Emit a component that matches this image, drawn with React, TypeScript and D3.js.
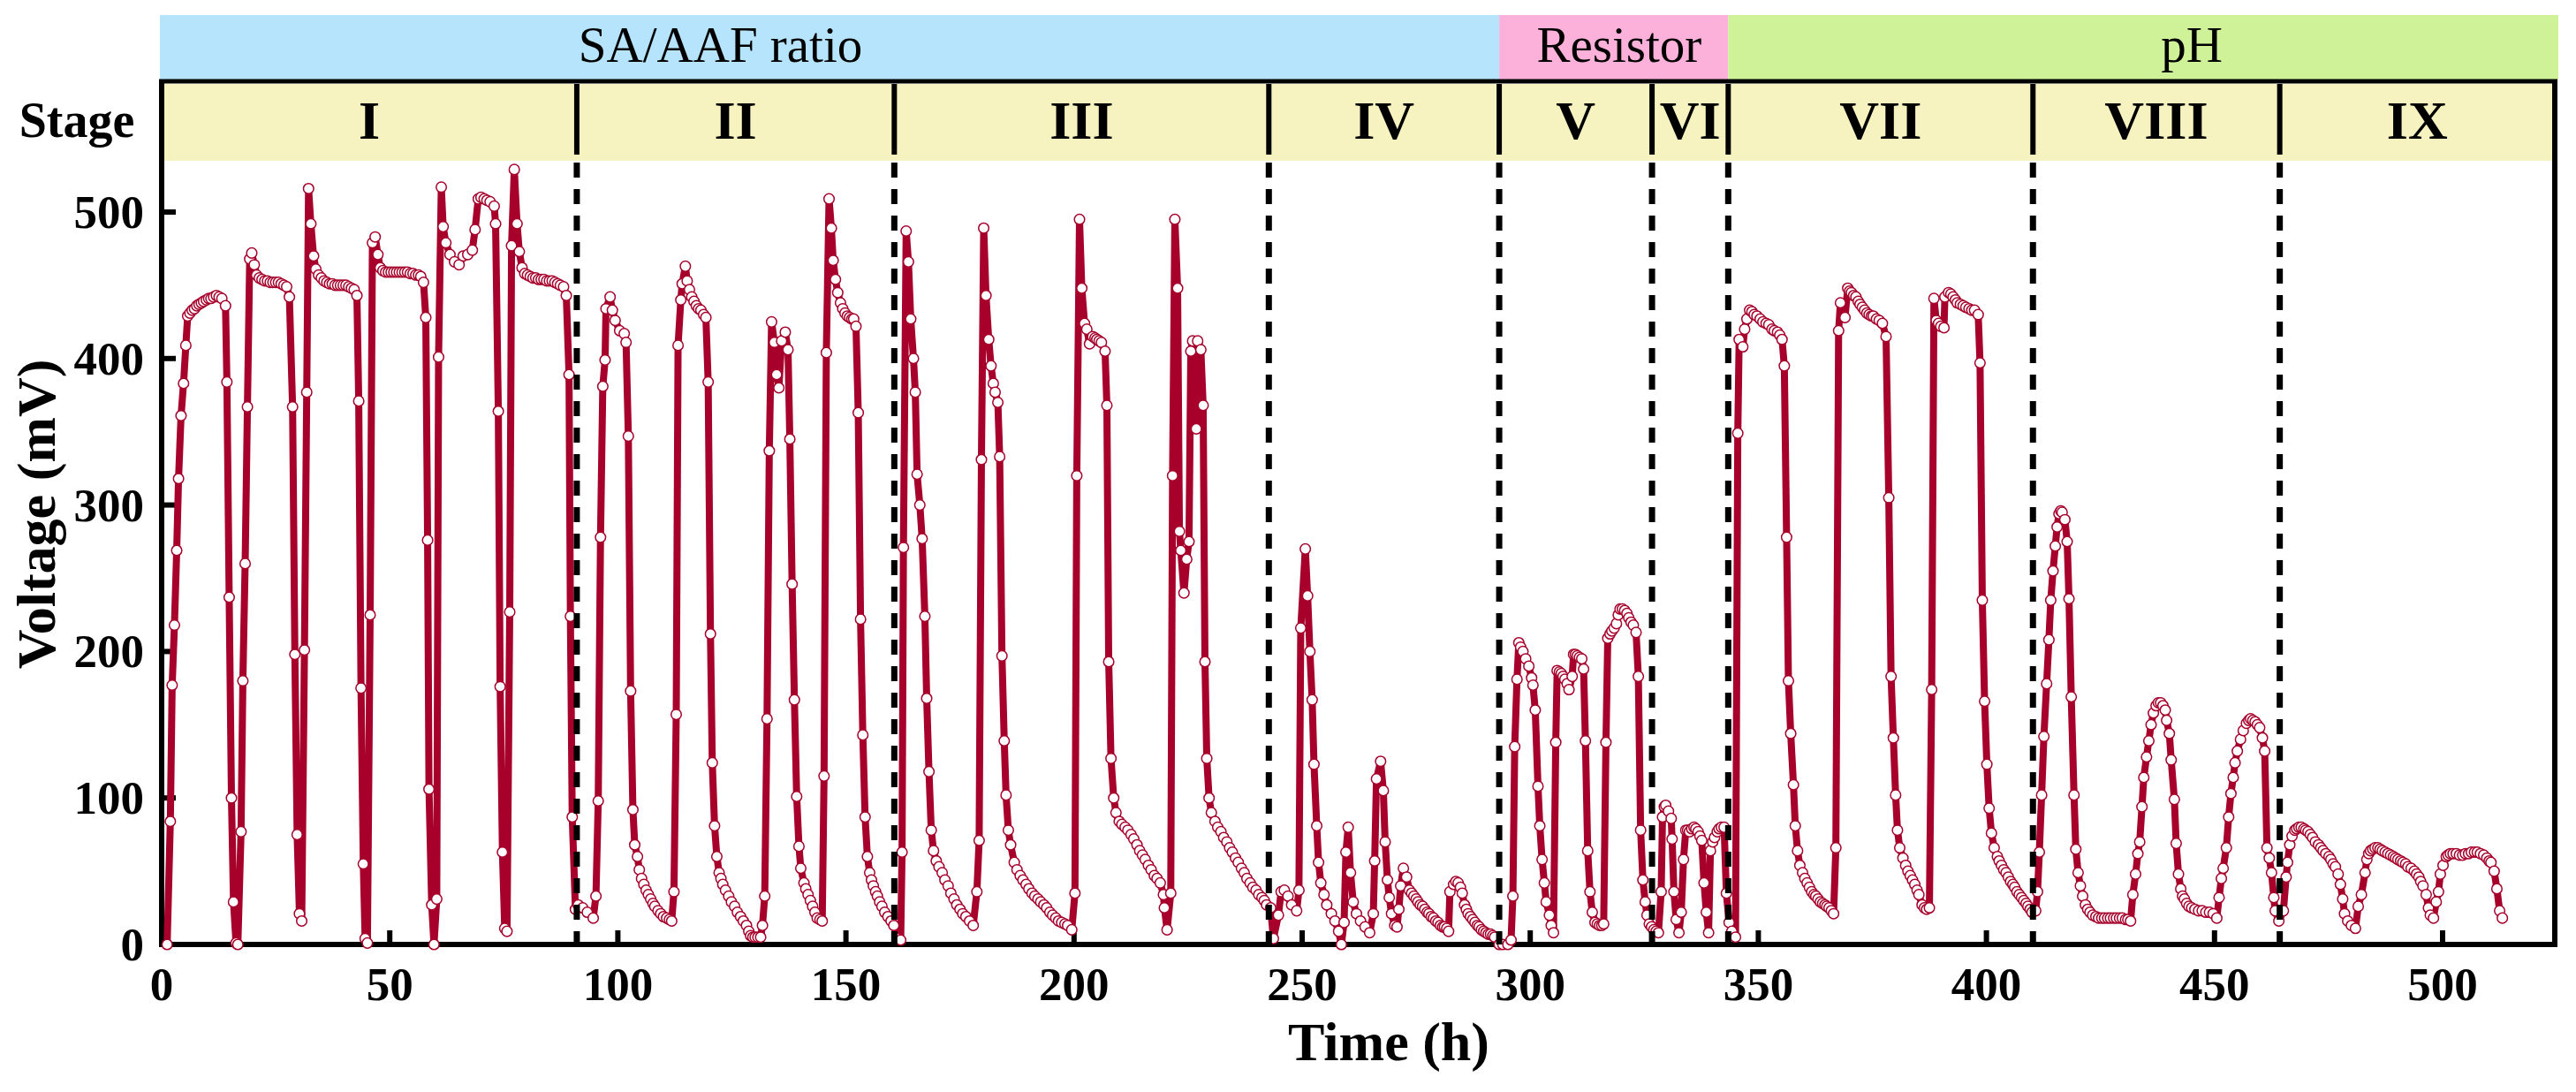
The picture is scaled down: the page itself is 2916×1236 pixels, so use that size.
import * as d3 from "d3";

// voltage readings per stage, [time (h), voltage (mV)]
const stageI: [number, number][] = [
  [1.2, 0], [1.9, 84], [2.3, 177], [2.8, 218], [3.3, 269], [3.7, 318], [4.25, 361], [4.8, 383], [5.3, 409], [5.7, 429],
  [6.2, 431], [6.7, 433], [7.2, 434], [7.7, 436], [8.2, 437], [8.7, 438], [9.2, 439], [9.8, 440], [10.3, 441], [10.8, 441],
  [11.4, 442], [12, 443], [12.6, 442], [13.2, 441], [14, 436], [14.3, 384], [14.8, 237], [15.3, 100], [15.75, 29], [16.3, 1],
  [16.7, 0], [17.4, 77], [17.8, 180], [18.3, 260], [18.8, 367], [19.3, 468], [19.75, 472], [20.3, 464], [20.8, 457],
  [21.4, 455], [22, 454], [22.6, 453], [23.2, 453], [23.8, 452], [24.4, 452], [25, 452], [25.6, 452], [26.2, 451], [26.8, 450],
  [27.4, 449], [28, 442], [28.7, 367], [29.2, 198], [29.7, 75], [30.2, 21], [30.7, 16], [31.3, 201], [31.8, 377], [32.2, 516],
  [32.7, 492], [33.3, 470], [33.8, 461], [34.4, 457], [35, 455], [35.6, 453], [36.2, 452], [36.8, 451], [37.4, 451], [38, 450],
  [38.6, 450], [39.2, 450], [39.8, 450], [40.4, 450], [41, 449], [41.6, 448], [42.2, 447], [42.8, 443], [43.2, 371], [43.7, 175],
  [44.2, 55], [44.6, 4], [45.1, 1], [45.7, 225], [46.2, 479], [46.8, 483], [47.4, 471], [47.9, 462], [48.5, 460], [49.1, 459],
  [49.7, 459], [50.3, 459], [50.9, 459], [51.5, 459], [52.1, 459], [52.7, 459], [53.3, 459], [53.9, 459], [54.5, 458], [55.1, 458],
  [55.7, 457], [56.3, 457], [56.8, 456], [57.4, 452], [57.9, 428], [58.3, 276], [58.6, 106], [59.2, 27], [59.7, 0], [60.3, 31],
  [60.7, 401], [61.3, 517], [61.7, 490], [62.3, 479], [63.2, 471], [64.2, 466], [65.2, 464], [66.1, 470], [67.1, 471], [68.1, 474],
  [68.7, 488], [69.4, 509], [70, 510], [70.7, 509], [71.3, 508], [72, 507], [72.9, 504], [73.2, 492], [73.8, 364], [74.2, 176],
  [74.7, 63], [75.2, 11], [75.7, 9], [76.3, 227], [76.7, 477], [77.3, 529], [77.9, 492], [78.4, 473], [79, 462], [79.6, 458],
  [80.2, 457], [80.8, 456], [81.4, 455], [82, 455], [82.6, 454], [83.2, 454], [83.8, 454], [84.4, 453], [85, 453], [85.6, 453],
  [86.2, 452], [86.8, 451], [87.4, 450], [88.1, 449], [88.7, 443], [89.3, 389], [89.6, 224], [90, 87], [90.7, 24],
];

const stageII: [number, number][] = [
  [91.3, 27], [92.3, 25], [93.3, 22], [94.6, 18], [95.2, 33], [95.7, 98], [96.2, 278], [96.7, 381], [97.2, 399], [97.4, 434],
  [98.3, 442], [98.8, 433], [99.4, 426], [100.4, 419], [101.4, 417], [101.8, 411], [102.3, 347], [102.8, 173], [103.3, 92],
  [103.7, 68], [104.3, 60], [104.7, 51], [105.2, 45], [105.7, 41], [106.2, 37], [106.7, 34], [107.2, 31], [107.7, 28], [108.1, 26],
  [108.8, 23], [109.4, 21], [110, 19], [110.7, 18], [111.3, 17], [111.8, 16], [112.3, 36], [112.8, 157], [113.2, 409], [113.8, 440],
  [114.1, 451], [114.8, 463], [115.2, 453], [115.7, 447], [116.2, 442], [116.7, 439], [117.2, 436], [117.7, 434], [118.2, 433],
  [118.8, 430], [119.3, 428], [119.8, 384], [120.3, 212], [120.7, 124], [121.2, 81], [121.7, 60], [122.2, 49], [122.6, 45],
  [123, 41], [123.6, 37], [124.3, 33], [124.9, 29], [125.6, 26], [126.2, 22], [126.9, 19], [127.5, 16], [128.2, 13], [128.7, 9],
  [129.1, 6], [129.6, 5], [130.1, 5], [130.7, 5], [131.3, 5], [131.7, 13], [132.2, 33], [132.7, 154], [133.2, 337], [133.7, 425],
  [134.3, 411], [134.8, 389], [135.3, 380], [135.9, 412], [136.7, 418], [137.3, 406], [137.7, 345], [138.2, 246], [138.7, 167],
  [139.2, 101], [139.7, 67], [140.1, 52], [140.8, 42], [141.2, 38], [141.7, 34], [142.2, 30], [142.7, 26], [143.2, 22], [143.7, 18],
  [144.3, 17], [144.8, 16], [145.2, 115], [145.7, 404], [146.3, 509], [146.8, 489], [147.2, 467], [147.7, 454], [148.2, 445],
  [148.8, 438], [149.3, 434], [149.8, 431], [150.3, 429], [150.8, 428], [151.3, 427], [151.7, 427], [152.2, 422], [152.7, 363],
  [153.2, 222], [153.7, 143], [154.2, 87], [154.7, 60], [155.2, 49], [155.6, 44], [156, 40], [156.5, 36], [156.9, 33], [157.4, 29],
  [157.9, 26], [158.5, 22], [159.2, 19], [159.9, 16], [160.5, 13],
];

const stageIII: [number, number][] = [
  [161.3, 4], [162, 3], [162.3, 63], [162.6, 271], [163.2, 487], [163.7, 466], [164.2, 427], [164.8, 400], [165.2, 377],
  [165.6, 321], [166.2, 300], [166.7, 277], [167.3, 224], [167.7, 168], [168.2, 118], [168.7, 78], [169.2, 64], [169.8, 57],
  [170.4, 53], [171.1, 49], [171.7, 44], [172.4, 40], [173, 35], [173.7, 31], [174.3, 27], [175, 24], [175.6, 21], [176.3, 19],
  [177.1, 16], [177.9, 13], [178.7, 36], [179.2, 71], [179.7, 331], [180.2, 489], [180.7, 443], [181.3, 413], [181.8, 395],
  [182.3, 383], [182.7, 377], [183.3, 370], [183.7, 333], [184.2, 197], [184.7, 139], [185.1, 102], [185.6, 78], [186.1, 68],
  [186.9, 56], [187.5, 51], [188.2, 47], [188.8, 44], [189.5, 41], [190.1, 38], [190.8, 35], [191.4, 33], [192.1, 31], [192.7, 29],
  [193.4, 27], [194, 25], [194.7, 22], [195.3, 20], [196, 18], [196.6, 16], [197.3, 15], [198, 14], [198.6, 13], [199.5, 10],
  [200.2, 35], [200.6, 320], [201.2, 495], [201.7, 448], [202.3, 424], [202.8, 420], [203.4, 410], [204.1, 415], [204.6, 414],
  [205, 413], [205.5, 412], [206, 411], [206.8, 405], [207.2, 368], [207.6, 193], [208.1, 127], [208.7, 100], [209.2, 90],
  [209.9, 84], [210.5, 82], [211.2, 80], [211.8, 78], [212.5, 75], [213.1, 72], [213.8, 68], [214.4, 64], [215, 61], [215.6, 58],
  [216.3, 54], [216.9, 51], [217.6, 47], [218.2, 45], [218.9, 42], [219.6, 34], [219.8, 25], [220.4, 10], [221.2, 35], [221.6, 320],
  [222.1, 495], [222.7, 448], [223.1, 282], [223.4, 269], [224.1, 240], [224.7, 263], [225.2, 275], [225.6, 405], [226, 412],
  [226.8, 352], [227.1, 412], [227.8, 406], [228.3, 368], [228.7, 193], [229.1, 127], [229.6, 100], [230.1, 90], [230.9, 84],
  [231.5, 80], [232.2, 77], [232.8, 73], [233.5, 70], [234.1, 66], [234.7, 63], [235.4, 59], [236, 56], [236.7, 52], [237.3, 49],
  [237.9, 45], [238.6, 42], [239.2, 39], [239.9, 37], [240.5, 34], [241.2, 32], [241.7, 30], [242.2, 27],
];

const stageIV: [number, number][] = [
  [243.1, 25], [243.7, 4], [244.8, 20], [245.4, 36], [246.1, 37], [246.9, 33], [247.7, 27], [248.8, 23], [249.3, 37], [249.7, 216],
  [250.7, 270], [251.2, 238], [251.7, 200], [252.2, 167], [252.6, 123], [253.2, 81], [253.6, 56], [254.1, 42], [254.8, 34],
  [255.4, 27], [256.4, 21], [257.2, 16], [258, 9], [258.6, 0], [259.2, 15], [259.6, 63], [260.1, 80], [260.6, 49], [261.2, 29],
  [261.9, 21], [262.8, 16], [263.8, 12], [264.8, 8], [265.6, 21], [265.9, 57], [266.3, 113], [267.2, 125], [267.8, 105],
  [268.2, 70], [268.7, 44], [269.1, 32], [269.6, 21], [270.3, 13], [270.8, 12], [271.2, 24], [271.6, 40], [272.2, 52], [272.9, 46],
  [273.5, 37], [274, 35], [274.5, 33], [275, 31], [275.4, 29], [275.9, 27], [276.4, 26], [276.9, 24], [277.4, 22], [277.8, 21],
  [278.3, 19], [278.8, 18], [279.3, 16], [279.8, 15], [280.3, 13], [280.8, 12], [281.2, 12], [281.7, 11], [282.1, 9], [282.4, 36],
  [283.2, 41], [283.7, 43], [284.2, 42], [284.7, 39], [285.1, 35], [285.6, 27], [286, 24], [286.4, 21], [286.9, 19], [287.4, 17],
  [287.9, 15], [288.4, 13], [288.8, 12], [289.3, 10], [289.8, 9], [290.3, 8], [290.8, 7], [291.3, 7], [291.8, 6], [292.2, 5],
  [293.2, 0],
];

const stageV: [number, number][] = [
  [294, 0], [295.1, 0], [295.8, 3], [296.2, 33], [296.6, 135], [297.1, 181], [297.5, 206], [297.9, 203], [298.4, 200], [299, 195],
  [299.7, 190], [300.3, 182], [300.6, 177], [301.1, 160], [301.7, 108], [302.1, 81], [302.6, 58], [303.1, 42], [303.5, 29],
  [304.2, 20], [304.6, 13], [305.1, 8], [305.6, 138], [305.9, 187], [306.4, 186], [306.8, 185], [307.2, 183], [307.6, 181],
  [308.1, 178], [308.5, 174], [309.2, 183], [309.5, 198], [309.9, 198], [310.3, 197], [310.8, 196], [311.3, 195], [311.7, 188],
  [312.1, 139], [312.6, 64], [313.1, 36], [313.6, 22], [314.2, 15], [314.7, 14], [315.2, 13], [315.7, 13], [316.1, 14], [316.6, 138],
  [317, 209], [317.5, 212], [317.9, 214], [318.4, 216], [318.9, 219], [319.3, 225], [319.7, 229], [320.2, 229], [320.7, 228],
  [321.2, 226], [321.6, 223], [322.1, 220], [322.6, 218], [323.2, 213], [323.7, 183], [324.2, 78], [324.7, 44], [325.2, 29],
  [325.6, 20], [326.1, 14], [326.6, 12],
];

const stageVI: [number, number][] = [
  [327.1, 10], [327.6, 9], [328.1, 8], [328.7, 36], [329, 87], [329.4, 94], [329.7, 95], [330.3, 91], [330.9, 86], [331.1, 72],
  [331.5, 36], [332, 17], [332.6, 8], [333.1, 22], [333.6, 58], [334.1, 78], [334.5, 78], [334.9, 77], [335.4, 79], [335.9, 80],
  [336.3, 79], [336.8, 77], [337.2, 74], [337.6, 71], [338.1, 42], [338.6, 22], [339.1, 8], [339.5, 64], [340, 70], [340.4, 73],
  [341, 77], [341.4, 79], [341.9, 80], [342.5, 80], [343, 35],
];

const stageVII: [number, number][] = [
  [343.6, 15], [344.2, 9], [345, 5], [345.5, 349], [345.8, 413], [346.6, 408], [347, 420], [347.5, 427], [348.1, 433], [348.6, 432],
  [349.1, 430], [349.7, 429], [350.4, 427], [351, 425], [351.7, 424], [352.3, 423], [353, 420], [353.5, 419], [354.2, 418],
  [354.7, 416], [355.2, 413], [355.7, 395], [356.2, 278], [356.6, 180], [357.1, 144], [357.7, 109], [358.1, 81], [358.6, 64],
  [359.1, 54], [359.7, 49], [360.2, 45], [360.7, 42], [361.2, 39], [361.7, 36], [362.2, 34], [362.6, 33], [363.1, 31], [363.6, 29],
  [364.1, 28], [364.6, 27], [365, 26], [365.5, 25], [366, 23], [366.5, 21], [367, 66], [367.6, 419], [368, 438], [369, 428],
  [369.6, 448], [370, 446], [370.4, 445], [370.9, 443], [371.4, 442], [371.9, 439], [372.3, 437], [372.8, 435], [373.3, 433],
  [373.8, 431], [374.3, 430], [374.8, 429], [375.2, 429], [375.9, 427], [376.5, 426], [377.2, 424], [378, 415], [378.6, 305],
  [379.1, 183], [379.6, 141], [380.1, 102], [380.5, 78], [381, 66], [381.7, 59], [382.3, 54], [382.8, 50], [383.3, 47], [383.8, 44],
  [384.3, 41], [384.8, 37], [385.2, 34], [385.9, 27], [386.4, 25], [386.9, 24], [387.5, 25], [388, 174], [388.5, 441], [389, 426],
  [389.5, 424], [390, 422], [390.7, 421], [390.9, 442], [391.7, 445], [392.2, 444], [392.7, 442], [393.2, 440], [393.6, 438],
  [394.3, 437], [394.9, 436], [395.5, 435], [396.2, 434], [396.8, 433], [397.4, 433], [398.2, 430], [398.6, 397], [399.1, 235],
  [399.6, 166], [400.1, 123], [400.6, 93], [401.1, 76], [401.7, 66], [402.4, 60], [402.8, 57], [403.3, 54], [403.8, 51], [404.3, 49],
  [404.8, 46], [405.3, 43], [405.8, 41], [406.2, 39], [406.7, 36], [407.2, 34], [407.7, 32], [408.2, 30], [408.7, 28], [409.1, 26],
  [409.6, 24], [410, 22],
];

const stageVIII: [number, number][] = [
  [410.8, 23], [411.2, 36], [411.6, 63], [412.1, 102], [412.6, 142], [413.2, 178], [413.7, 208], [414.1, 235], [414.6, 255],
  [415.1, 272], [415.5, 285], [415.9, 294], [416.3, 296], [416.6, 295], [417.2, 290], [417.7, 275], [418.1, 236], [418.6, 169],
  [419.2, 102], [419.6, 65], [420.1, 49], [420.6, 40], [421.1, 33], [421.7, 27], [422.2, 24], [422.7, 22], [423.3, 20], [424, 19],
  [424.6, 18], [425.3, 18], [425.9, 18], [426.6, 18], [427.2, 18], [427.9, 18], [428.5, 18], [429.2, 18], [429.8, 18], [430.5, 17],
  [431, 17], [431.6, 16], [432.1, 34], [432.7, 48], [433.2, 62], [433.6, 70], [434.1, 94], [434.5, 114], [435.1, 128], [435.6, 139],
  [436.1, 150], [436.6, 158], [437.2, 163], [437.7, 165], [438.2, 165], [438.7, 163], [439.2, 160], [439.5, 153], [440.1, 144],
  [440.5, 126], [441.2, 99], [441.6, 69], [442.1, 48], [442.6, 38], [443, 33], [443.4, 31], [443.9, 28], [444.4, 26], [445, 25],
  [445.7, 24], [446.5, 23], [447.3, 23], [448.1, 22], [448.9, 22], [449.7, 21], [450.5, 18], [451, 32], [451.5, 45], [451.9, 52],
  [452.6, 66], [453.1, 87], [453.6, 103], [454.1, 114], [454.5, 124], [455, 132], [455.7, 140], [456.3, 146], [457, 151],
  [457.5, 153], [457.9, 154], [458.4, 153], [458.9, 152], [459.4, 150], [459.9, 148], [460.5, 141], [461, 132], [461.5, 66],
  [462, 59], [462.5, 49], [463, 32], [463.3, 23], [464.1, 16],
];

const stageIX: [number, number][] = [
  [465.1, 23], [465.7, 46], [466, 56], [466.5, 68], [467, 74], [467.6, 78], [468, 79], [468.5, 80], [469, 80], [469.6, 79],
  [470, 78], [470.5, 77], [471, 75], [471.5, 73], [472.1, 70], [472.8, 68], [473.3, 66], [473.8, 64], [474.4, 62], [475.1, 60],
  [475.5, 58], [476, 55], [476.5, 53], [477.1, 48], [477.6, 41], [478.1, 31], [478.5, 21], [479.2, 16], [480, 13], [480.9, 11],
  [481.5, 26], [482.2, 34], [483, 49], [483.4, 58], [483.8, 62], [484.2, 64], [484.7, 65], [485.2, 66], [485.8, 66], [486.3, 65],
  [486.8, 64], [487.4, 63], [488, 62], [488.6, 61], [489.2, 60], [489.7, 59], [490.2, 58], [490.8, 57], [491.3, 56], [491.9, 55],
  [492.4, 53], [493.1, 52], [493.8, 50], [494.3, 48], [494.8, 46], [495.2, 43], [495.7, 40], [496.4, 34], [496.9, 25], [497.3, 20],
  [498, 18], [498.6, 29], [499.1, 36], [499.5, 48], [500.1, 54], [500.8, 60], [501.2, 61], [501.7, 62], [502.3, 62], [503, 62],
  [503.7, 61], [504.4, 61], [505, 62], [505.7, 62], [506.3, 63], [507, 63], [507.6, 63], [508.3, 62], [509, 61], [509.7, 59],
  [510.2, 57], [510.6, 56], [511.3, 50], [511.9, 38], [512.5, 23], [513.1, 18],
];

const stageNames = ["I", "II", "III", "IV", "V", "VI", "VII", "VIII", "IX"];
// stage boundaries (h)
const stageBreaks = [91, 160.6, 242.7, 293.2, 326.7, 343.4, 410.2, 464.3];

const groupNames = ["SA/AAF ratio", "Resistor", "pH"];
const groupEnds = [293.2, 343.4, 525]; // h
const groupLabelAt = [122.5, 319.5, 445]; // h
const groupColors = ["#b5e4fc", "#fcb1da", "#cff299"];

const xTicks = [0, 50, 100, 150, 200, 250, 300, 350, 400, 450, 500];
const yTicks = [0, 100, 200, 300, 400, 500];

const W = 2916;
const H = 1236;
const frame = { l: 183, r: 2892, t: 92, b: 1069 };
const stageBand = { top: 95, bottom: 182 };
const groupBand = { top: 17, bottom: 90 };
const RED = "#a6002b";
const FONT = "'Liberation Serif', 'Times New Roman', serif";

export default function App() {
  const data = [
    ...stageI, ...stageII, ...stageIII, ...stageIV, ...stageV,
    ...stageVI, ...stageVII, ...stageVIII, ...stageIX,
  ];

  const x = d3.scaleLinear().domain([0, 500]).range([183, 2765]);
  const y = d3.scaleLinear().domain([0, 500]).range([frame.b, 240]);

  const line = d3.line<[number, number]>()
    .x((d) => x(d[0]))
    .y((d) => y(d[1]));

  const stageEdges = [frame.l, ...stageBreaks.map((b) => x(b)), frame.r];
  const groupEdges = [frame.l - 2, ...groupEnds.map((e, i) => (i === groupEnds.length - 1 ? frame.r + 4 : x(e)))];

  return (
    <svg
      width={W}
      height={H}
      viewBox={`0 0 ${W} ${H}`}
      style={{ position: "absolute", left: 0, top: 0, background: "#fff" }}
      fontFamily={FONT}
    >
      {/* group band */}
      {groupNames.map((g, i) => (
        <g key={g}>
          <rect
            x={groupEdges[i]}
            y={groupBand.top}
            width={groupEdges[i + 1] - groupEdges[i]}
            height={groupBand.bottom - groupBand.top}
            fill={groupColors[i]}
          />
          <text x={x(groupLabelAt[i])} y={70} textAnchor="middle" fontSize={57} fill="#000">
            {g}
          </text>
        </g>
      ))}

      {/* stage band */}
      <rect
        x={frame.l}
        y={stageBand.top}
        width={frame.r - frame.l}
        height={stageBand.bottom - stageBand.top}
        fill="#f6f3c1"
      />
      {stageNames.map((s, i) => (
        <text
          key={s}
          x={(stageEdges[i] + stageEdges[i + 1]) / 2}
          y={157}
          textAnchor="middle"
          fontSize={62}
          fontWeight="bold"
        >
          {s}
        </text>
      ))}
      <text x={87} y={155} textAnchor="middle" fontSize={56} fontWeight="bold">
        Stage
      </text>

      {/* ticks */}
      {xTicks.map((t) => (
        <g key={`x${t}`}>
          <line x1={x(t)} x2={x(t)} y1={frame.b} y2={frame.b - 16} stroke="#000" strokeWidth={6} />
          <text x={x(t)} y={1132} textAnchor="middle" fontSize={53} fontWeight="bold">
            {t}
          </text>
        </g>
      ))}
      {yTicks.map((t) => (
        <g key={`y${t}`}>
          <line x1={frame.l} x2={frame.l + 16} y1={y(t)} y2={y(t)} stroke="#000" strokeWidth={6} />
          <text x={163} y={y(t)} textAnchor="end" dominantBaseline="central" fontSize={53} fontWeight="bold">
            {t}
          </text>
        </g>
      ))}

      {/* frame */}
      <line x1={frame.l - 3} x2={frame.r + 3} y1={frame.t} y2={frame.t} stroke="#000" strokeWidth={5} />
      <line x1={frame.l - 3} x2={frame.r + 3} y1={frame.b} y2={frame.b} stroke="#000" strokeWidth={6} />
      <line x1={frame.l} x2={frame.l} y1={frame.t} y2={frame.b + 3} stroke="#000" strokeWidth={6} />
      <line x1={frame.r} x2={frame.r} y1={frame.t} y2={frame.b + 3} stroke="#000" strokeWidth={6} />

      {/* series */}
      <path d={line(data) ?? ""} fill="none" stroke={RED} strokeWidth={8} strokeLinejoin="round" />
      {data.map((d, i) => (
        <circle key={i} cx={x(d[0])} cy={y(d[1])} r={5.8} fill="#fff" stroke={RED} strokeWidth={1.5} />
      ))}

      {/* stage dividers */}
      {stageBreaks.map((b) => (
        <g key={b}>
          <line x1={x(b)} x2={x(b)} y1={stageBand.top} y2={175} stroke="#000" strokeWidth={6} />
          <line
            x1={x(b)}
            x2={x(b)}
            y1={184}
            y2={frame.b}
            stroke="#000"
            strokeWidth={7}
            strokeDasharray="17 13"
          />
        </g>
      ))}

      {/* axis titles */}
      <text x={1572} y={1200} textAnchor="middle" fontSize={62} fontWeight="bold">
        Time (h)
      </text>
      <text
        transform={`translate(62,582) rotate(-90)`}
        textAnchor="middle"
        fontSize={62}
        fontWeight="bold"
      >
        Voltage (mV)
      </text>
    </svg>
  );
}
